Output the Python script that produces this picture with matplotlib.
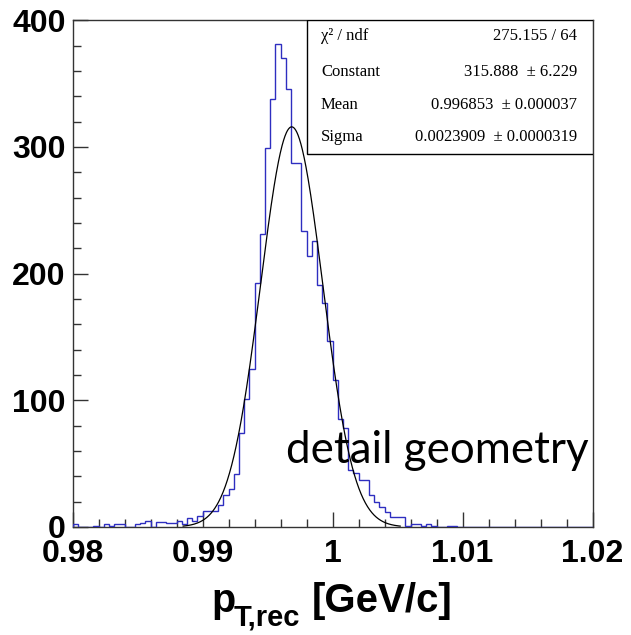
import numpy as np
import matplotlib
matplotlib.use("Agg")
import matplotlib.pyplot as plt
from matplotlib.patches import Rectangle
from matplotlib.ticker import MultipleLocator, FixedLocator

# ---------------- data ----------------
x_min, x_max, n_bins = 0.98, 1.02, 100
counts = [2, 0, 0, 0, 1, 0, 2, 1, 2, 2,
          0, 0, 2, 3, 5, 0, 4, 4, 3, 3,
          5, 2, 7, 5, 9, 13, 13, 13, 17, 25,
          30, 42, 74, 101, 125, 193, 231, 299, 338, 381,
          370, 346, 287, 287, 234, 214, 226, 191, 177, 147,
          116, 85, 78, 45, 43, 37, 37, 25, 20, 16,
          12, 8, 8, 8, 1, 2, 2, 1, 2, 1,
          0, 0, 1, 1, 0, 0, 0, 0, 0, 0,
          0, 0, 0, 0, 0, 0, 0, 0, 0, 0,
          0, 0, 0, 0, 0, 0, 0, 0, 0, 0]
fit_constant = 315.888
fit_mean = 0.996853
fit_sigma = 0.0023909
fit_range = (0.9885, 1.0052)
stat_labels = ["χ² / ndf", "Constant", "Mean", "Sigma"]
stat_values = ["275.155 / 64", "315.888  ± 6.229", "0.996853  ± 0.000037",
               "0.0023909  ± 0.0000319"]
x_ticks = [0.98, 0.99, 1.0, 1.01, 1.02]
x_ticklabels = ["0.98", "0.99", "1", "1.01", "1.02"]
y_ticks = [0, 100, 200, 300, 400]
y_ticklabels = ["0", "100", "200", "300", "400"]
annotation = "detail geometry"

# ---------------- figure ----------------
W, H = 631, 635
fig = plt.figure(figsize=(W / 100, H / 100), dpi=100)
ax_l, ax_r, ax_t, ax_b = 72.7, 592.5, 20.3, 527.0
ax = fig.add_axes([ax_l / W, 1 - ax_b / H, (ax_r - ax_l) / W, (ax_b - ax_t) / H])

edges = np.linspace(x_min, x_max, n_bins + 1)
ax.stairs(counts, edges, color="#2e2ec0", linewidth=1.0, baseline=0, zorder=3)

xf = np.linspace(fit_range[0], fit_range[1], 600)
yf = fit_constant * np.exp(-0.5 * ((xf - fit_mean) / fit_sigma) ** 2)
ax.plot(xf, yf, color="black", linewidth=0.9, zorder=4)

ax.set_xlim(x_min, x_max)
ax.set_ylim(0, 400)
ax.xaxis.set_major_locator(FixedLocator(x_ticks))
ax.set_xticklabels(x_ticklabels)
ax.yaxis.set_major_locator(FixedLocator(y_ticks))
ax.set_yticklabels(y_ticklabels)
ax.xaxis.set_minor_locator(MultipleLocator(0.002))
ax.yaxis.set_minor_locator(MultipleLocator(20))
ax.tick_params(which="both", direction="in", top=False, right=False, color="#333333", width=1.0)
ax.tick_params(which="major", length=10.8)
ax.tick_params(which="minor", length=5.8)
ax.tick_params(axis="x", which="major", pad=9)
ax.tick_params(axis="y", which="major", pad=5)
for lab in ax.get_xticklabels() + ax.get_yticklabels():
    lab.set_fontfamily("Liberation Sans")
    lab.set_fontweight("bold")
    lab.set_fontsize(23)
for sp in ax.spines.values():
    sp.set_color("#333333")
    sp.set_linewidth(1.0)

# stats box
bx0 = (307.3 - ax_l) / (ax_r - ax_l)
by0 = (ax_b - 154.3) / (ax_b - ax_t)
ax.add_patch(Rectangle((bx0, by0), 1 - bx0, 1 - by0, transform=ax.transAxes,
                       facecolor="white", edgecolor="black", linewidth=1.0, zorder=5))
row_px = [36.0, 71.7, 105.0, 137.3]
for lab, val, ypx in zip(stat_labels, stat_values, row_px):
    yy = (ax_b - ypx) / (ax_b - ax_t)
    ax.text((321 - ax_l) / (ax_r - ax_l), yy, lab, transform=ax.transAxes,
            family="Liberation Serif", fontsize=12, ha="left", va="center", zorder=6)
    ax.text((577 - ax_l) / (ax_r - ax_l), yy, val, transform=ax.transAxes,
            family="Liberation Serif", fontsize=12, ha="right", va="center", zorder=6)

# annotation text, fitted to width
t = fig.text(286 / W, 1 - 463 / H, annotation, family="Lato", fontsize=32,
             ha="left", va="baseline", zorder=7)
fig.canvas.draw()
bb = t.get_window_extent(fig.canvas.get_renderer())
t.set_fontsize(32 * 302 / bb.width)

# axis title
fig.text(211 / W, 1 - 612 / H, "p", family="Liberation Sans", fontweight="bold",
         fontsize=28.5, ha="left", va="baseline")
fig.text(234 / W, 1 - 626 / H, "T,rec", family="Liberation Sans", fontweight="bold",
         fontsize=21, ha="left", va="baseline")
fig.text(312 / W, 1 - 612 / H, "[GeV/c]", family="Liberation Sans", fontweight="bold",
         fontsize=29, ha="left", va="baseline")

fig.savefig("out.png", dpi=100)
